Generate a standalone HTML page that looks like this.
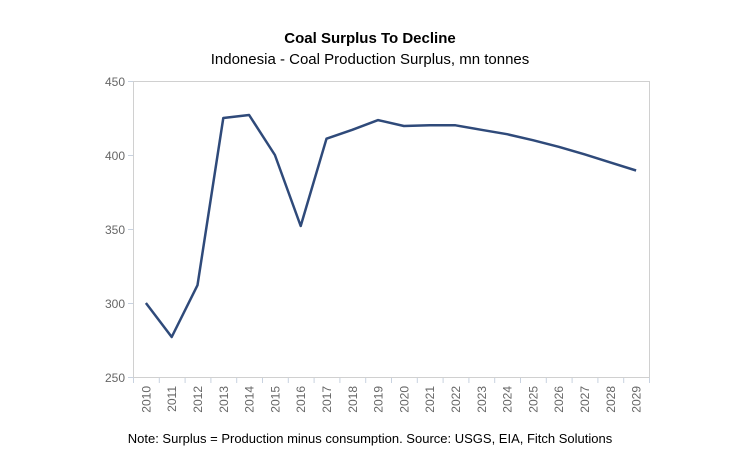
<!DOCTYPE html><html><head><style>body{margin:0;background:#fff;}svg{display:block}</style></head><body>
<svg width="741" height="463" xmlns="http://www.w3.org/2000/svg" font-family="Liberation Sans, sans-serif">
<rect width="741" height="463" fill="#fff"/>
<text x="370" y="43" text-anchor="middle" font-size="15" font-weight="bold" fill="#000">Coal Surplus To Decline</text>
<text x="370" y="64" text-anchor="middle" font-size="15" fill="#000">Indonesia - Coal Production Surplus, mn tonnes</text>
<rect x="133.5" y="81.5" width="516" height="296" fill="none" stroke="#d0d0d0"/>
<g stroke="#c8d2e0">
<line x1="128" y1="81.5" x2="133" y2="81.5"/><line x1="128" y1="155.5" x2="133" y2="155.5"/><line x1="128" y1="229.5" x2="133" y2="229.5"/><line x1="128" y1="303.5" x2="133" y2="303.5"/><line x1="128" y1="377.5" x2="133" y2="377.5"/>
<line x1="133.5" y1="378" x2="133.5" y2="383"/><line x1="159.3" y1="378" x2="159.3" y2="383"/><line x1="185.1" y1="378" x2="185.1" y2="383"/><line x1="210.9" y1="378" x2="210.9" y2="383"/><line x1="236.7" y1="378" x2="236.7" y2="383"/><line x1="262.5" y1="378" x2="262.5" y2="383"/><line x1="288.3" y1="378" x2="288.3" y2="383"/><line x1="314.1" y1="378" x2="314.1" y2="383"/><line x1="339.9" y1="378" x2="339.9" y2="383"/><line x1="365.7" y1="378" x2="365.7" y2="383"/><line x1="391.5" y1="378" x2="391.5" y2="383"/><line x1="417.3" y1="378" x2="417.3" y2="383"/><line x1="443.1" y1="378" x2="443.1" y2="383"/><line x1="468.9" y1="378" x2="468.9" y2="383"/><line x1="494.7" y1="378" x2="494.7" y2="383"/><line x1="520.5" y1="378" x2="520.5" y2="383"/><line x1="546.3" y1="378" x2="546.3" y2="383"/><line x1="572.1" y1="378" x2="572.1" y2="383"/><line x1="597.9" y1="378" x2="597.9" y2="383"/><line x1="623.7" y1="378" x2="623.7" y2="383"/><line x1="649.5" y1="378" x2="649.5" y2="383"/>
</g>
<g font-size="12" fill="#666" text-anchor="end">
<text x="125" y="86">450</text><text x="125" y="160">400</text><text x="125" y="234">350</text><text x="125" y="308">300</text><text x="125" y="382">250</text>
<text transform="translate(150.4,386) rotate(-90)">2010</text>
<text transform="translate(176.2,386) rotate(-90)">2011</text>
<text transform="translate(202,386) rotate(-90)">2012</text>
<text transform="translate(227.8,386) rotate(-90)">2013</text>
<text transform="translate(253.6,386) rotate(-90)">2014</text>
<text transform="translate(279.4,386) rotate(-90)">2015</text>
<text transform="translate(305.2,386) rotate(-90)">2016</text>
<text transform="translate(331,386) rotate(-90)">2017</text>
<text transform="translate(356.8,386) rotate(-90)">2018</text>
<text transform="translate(382.6,386) rotate(-90)">2019</text>
<text transform="translate(408.4,386) rotate(-90)">2020</text>
<text transform="translate(434.2,386) rotate(-90)">2021</text>
<text transform="translate(460,386) rotate(-90)">2022</text>
<text transform="translate(485.8,386) rotate(-90)">2023</text>
<text transform="translate(511.6,386) rotate(-90)">2024</text>
<text transform="translate(537.4,386) rotate(-90)">2025</text>
<text transform="translate(563.2,386) rotate(-90)">2026</text>
<text transform="translate(589,386) rotate(-90)">2027</text>
<text transform="translate(614.8,386) rotate(-90)">2028</text>
<text transform="translate(640.6,386) rotate(-90)">2029</text>
</g>
<polyline fill="none" stroke="#2f4a7a" stroke-width="2.5" stroke-linejoin="round" points="145.9,303 171.7,337 197.5,285.2 223.3,118 249.1,115 274.9,155 300.7,226 326.5,138.7 352.3,129.8 378.1,120.1 403.9,126 429.7,125.3 455.5,125.3 481.3,129.8 507.1,134.2 532.9,140.2 558.7,146.8 584.5,154.3 610.3,162.4 636.1,170.5"/>
<text x="370" y="443" text-anchor="middle" font-size="13" fill="#000">Note: Surplus = Production minus consumption. Source: USGS, EIA, Fitch Solutions</text>
</svg></body></html>
